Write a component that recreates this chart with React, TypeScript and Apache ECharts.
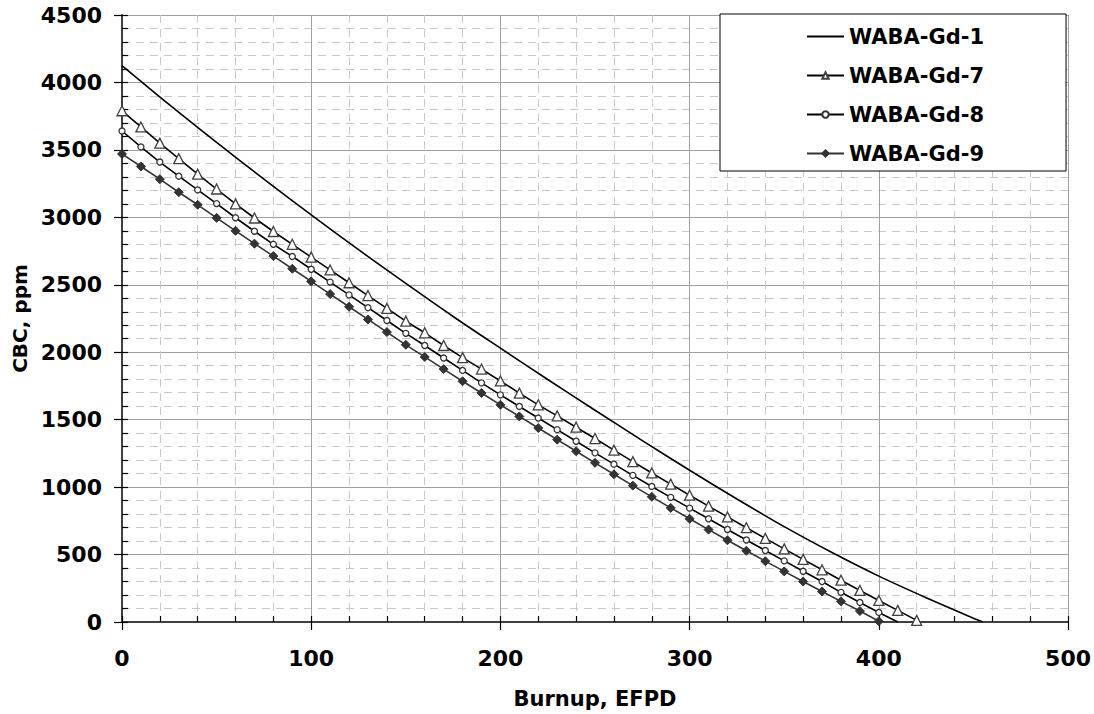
import React, { useEffect, useRef } from "react";
import * as echarts from "echarts";

const burnupGd1 = [0, 25, 50, 75, 100, 125, 150, 175, 200, 225, 250, 275, 300, 325, 350, 375, 400, 425, 450, 455];
const cbcGd1 = [4125, 3835, 3555, 3283, 3018, 2760, 2510, 2265, 2030, 1798, 1570, 1345, 1125, 912, 707, 517, 340, 180, 28, 0];

const burnupGd7 = [0, 10, 20, 30, 40, 50, 60, 70, 80, 90, 100, 110, 120, 130, 140, 150, 160, 170, 180, 190, 200, 210, 220, 230, 240, 250, 260, 270, 280, 290, 300, 310, 320, 330, 340, 350, 360, 370, 380, 390, 400, 410, 420];
const cbcGd7 = [3790, 3670, 3550, 3435, 3320, 3210, 3100, 2995, 2895, 2800, 2705, 2610, 2515, 2420, 2325, 2230, 2144, 2050, 1960, 1875, 1787, 1697, 1610, 1528, 1444, 1360, 1274, 1189, 1105, 1022, 940, 859, 779, 699, 620, 542, 464, 387, 310, 234, 160, 86, 12];

const burnupGd8 = [0, 10, 20, 30, 40, 50, 60, 70, 80, 90, 100, 110, 120, 130, 140, 150, 160, 170, 180, 190, 200, 210, 220, 230, 240, 250, 260, 270, 280, 290, 300, 310, 320, 330, 340, 350, 360, 370, 380, 390, 400, 410];
const cbcGd8 = [3640, 3522, 3410, 3305, 3203, 3102, 2997, 2897, 2800, 2710, 2615, 2520, 2425, 2330, 2235, 2140, 2050, 1957, 1865, 1773, 1684, 1598, 1512, 1426, 1340, 1254, 1170, 1087, 1005, 924, 844, 765, 686, 608, 530, 453, 376, 300, 220, 145, 71, 0];

const burnupGd9 = [0, 10, 20, 30, 40, 50, 60, 70, 80, 90, 100, 110, 120, 130, 140, 150, 160, 170, 180, 190, 200, 210, 220, 230, 240, 250, 260, 270, 280, 290, 300, 310, 320, 330, 340, 350, 360, 370, 380, 390, 400];
const cbcGd9 = [3470, 3377, 3283, 3186, 3093, 2996, 2900, 2805, 2713, 2619, 2525, 2431, 2337, 2243, 2149, 2055, 1965, 1875, 1785, 1698, 1610, 1524, 1438, 1352, 1266, 1180, 1095, 1011, 928, 846, 765, 685, 606, 528, 451, 375, 300, 226, 153, 81, 6];

const seriesNames = ["WABA-Gd-1", "WABA-Gd-7", "WABA-Gd-8", "WABA-Gd-9"];

const FONT = "DejaVu Sans";

function pairs(xs: number[], ys: number[]) {
  return xs.map((x, i) => [x, ys[i]]);
}

export default function App() {
  const ref = useRef<HTMLDivElement>(null);
  useEffect(() => {
    if (!ref.current) return;
    const chart = echarts.init(ref.current, null, { renderer: "svg" });
    const gd8 = pairs(burnupGd8, cbcGd8).map((p, i, arr) =>
      i === arr.length - 1 ? { value: p, symbol: "none" } : p
    );
    const plain = (v: number) => String(v);
    chart.setOption({
      animation: false,
      backgroundColor: "#ffffff",
      textStyle: { fontFamily: FONT },
      grid: { left: 122, right: 25, top: 15, bottom: 89, containLabel: false },
      legend: {
        orient: "vertical",
        left: 720,
        top: 14,
        data: [
          {
            name: seriesNames[0],
            itemStyle: { color: "rgba(0,0,0,0)", borderColor: "rgba(0,0,0,0)", borderWidth: 0, opacity: 0 },
          },
          seriesNames[1],
          seriesNames[2],
          seriesNames[3],
        ],
        backgroundColor: "#ffffff",
        borderColor: "#000000",
        borderWidth: 1,
        borderRadius: 0,
        padding: [12, 82, 7, 86],
        itemWidth: 37,
        itemHeight: 8,
        itemGap: 18,
        textStyle: { fontFamily: FONT, fontSize: 21, fontWeight: "bold", color: "#000" },
      },
      xAxis: [
        {
          type: "value",
          min: 0,
          max: 500,
          interval: 100,
          name: "Burnup, EFPD",
          nameLocation: "middle",
          nameGap: 66,
          nameTextStyle: { fontFamily: FONT, fontSize: 21, fontWeight: "bold", color: "#000" },
          axisLine: { show: true, onZero: false, lineStyle: { color: "#404040", width: 2 } },
          axisTick: { show: true, inside: false, length: 8, lineStyle: { color: "#000", width: 1.2 } },
          axisLabel: { margin: 25, fontFamily: FONT, fontSize: 22, fontWeight: "bold", color: "#000", formatter: plain },
          splitLine: { show: true, lineStyle: { color: "#a0a0a0", width: 1 } },
          minorTick: { show: false, splitNumber: 5 },
          minorSplitLine: { show: true, lineStyle: { color: "#c8c8c8", width: 1, type: [8, 6] } },
        },
        {
          type: "value",
          min: 0,
          max: 500,
          interval: 20,
          position: "bottom",
          axisLine: { show: false },
          axisTick: { show: true, inside: true, length: 6, lineStyle: { color: "#000", width: 1.2 } },
          axisLabel: { show: false },
          splitLine: { show: false },
        },
      ],
      yAxis: [
        {
          type: "value",
          min: 0,
          max: 4500,
          interval: 500,
          name: "CBC, ppm",
          nameLocation: "middle",
          nameGap: 90,
          nameTextStyle: { fontFamily: FONT, fontSize: 20, fontWeight: "bold", color: "#000" },
          axisLine: { show: true, onZero: false, lineStyle: { color: "#404040", width: 2 } },
          axisTick: { show: true, inside: false, length: 8, lineStyle: { color: "#000", width: 1.2 } },
          axisLabel: { margin: 20, fontFamily: FONT, fontSize: 22, fontWeight: "bold", color: "#000", formatter: plain },
          splitLine: { show: true, lineStyle: { color: "#a0a0a0", width: 1 } },
          minorTick: { show: false, splitNumber: 5 },
          minorSplitLine: { show: true, lineStyle: { color: "#c8c8c8", width: 1, type: [8, 6] } },
        },
        {
          type: "value",
          min: 0,
          max: 4500,
          interval: 100,
          position: "left",
          axisLine: { show: false },
          axisTick: { show: true, inside: true, length: 6, lineStyle: { color: "#000", width: 1.2 } },
          axisLabel: { show: false },
          splitLine: { show: false },
        },
      ],
      series: [
        {
          name: seriesNames[0],
          type: "line",
          data: pairs(burnupGd1, cbcGd1),
          smooth: 0.3,
          symbol: "none",
          lineStyle: { color: "#000", width: 1.6 },
          itemStyle: { color: "#000" },
          z: 5,
        },
        {
          name: seriesNames[1],
          type: "line",
          data: pairs(burnupGd7, cbcGd7),
          symbol: "triangle",
          symbolSize: 10,
          showAllSymbol: true,
          lineStyle: { color: "#000", width: 1.6 },
          itemStyle: { color: "#ffffff", borderColor: "#404040", borderWidth: 1.3 },
          z: 4,
        },
        {
          name: seriesNames[2],
          type: "line",
          data: gd8,
          symbol: "circle",
          symbolSize: 6,
          showAllSymbol: true,
          lineStyle: { color: "#000", width: 1.6 },
          itemStyle: { color: "#ffffff", borderColor: "#333", borderWidth: 1.3 },
          z: 4,
        },
        {
          name: seriesNames[3],
          type: "line",
          data: pairs(burnupGd9, cbcGd9),
          symbol: "diamond",
          symbolSize: 9,
          showAllSymbol: true,
          lineStyle: { color: "#333", width: 1.6 },
          itemStyle: { color: "#333", borderColor: "#333", borderWidth: 1 },
          z: 4,
        },
      ],
    });
    return () => chart.dispose();
  }, []);
  return (
    <div
      ref={ref}
      style={{ position: "fixed", left: 0, top: 0, width: 1094, height: 714, background: "#fff" }}
    />
  );
}
